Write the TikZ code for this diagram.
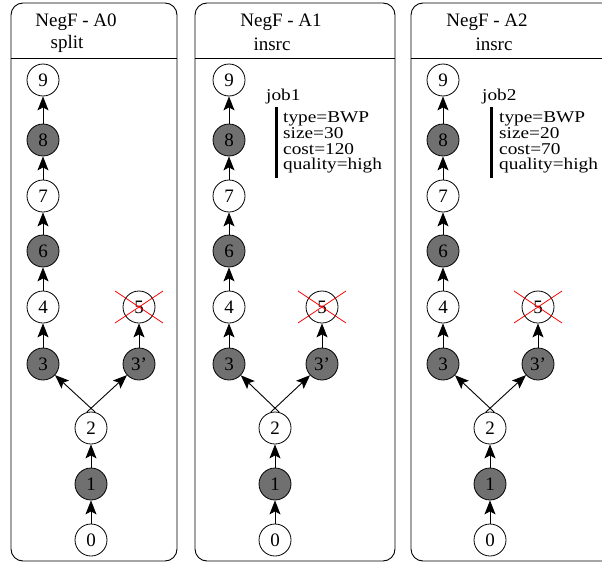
\documentclass[tikz,border=0pt]{standalone}
\usepackage{fontspec}
\setmainfont{Liberation Serif}
\newfontfamily\jobfont{Liberation Serif}[FakeStretch=1.17]
\usetikzlibrary{arrows.meta}
\definecolor{stategray}{gray}{0.44}

\tikzset{
  panel/.style={draw, line width=0.9pt, rounded corners=12pt},
  state/.style={circle, draw, line width=0.8pt, minimum size=32pt, inner sep=0pt,
                font=\fontsize{19}{19}\selectfont},
  busy/.style={state, fill=stategray},
  flow/.style={-{Stealth[length=14pt,width=11pt,inset=3pt]}, line width=0.9pt},
  cross/.style={draw=red, line width=0.8pt},
  head/.style={font=\fontsize{19}{19}\selectfont, inner sep=0pt},
  jobtxt/.style={font=\jobfont\fontsize{16.5}{16.5}\selectfont, inner sep=0pt, anchor=base west},
  bar/.style={line width=3pt}
}

\begin{document}
\begin{tikzpicture}[x=1pt,y=-1pt]
\useasboundingbox (0,0) rectangle (602,562);
\clip (0,0) rectangle (602,562);

% panel frames with their title separators
\draw[panel] (11,3) rectangle (177,561);
\draw[line width=0.9pt] (11,58) -- (177,58);
\draw[panel] (195,3) rectangle (395,561);
\draw[line width=0.9pt] (195,58) -- (395,58);
\draw[panel] (411,3) rectangle (630,561);
\draw[line width=0.9pt] (411,58) -- (630,58);

% titles
\node[head] (t0) at (76,22) {NegF - A0};
\node[head] (s0) at (67,44) {split};
\node[head] (t1) at (281,22) {NegF - A1};
\node[head] (s1) at (272,44) {insrc};
\node[head] (t2) at (487,22) {NegF - A2};
\node[head] (s2) at (494,44) {insrc};

% one state chain per panel: prefix / left column / centre / right column
\foreach \p/\l/\c/\r in {a/43/91/139, b/229/275/322, c/443/490/538}{
  \node[state] (\p9) at (\l,80)  {9};
  \node[busy]  (\p8) at (\l,140) {8};
  \node[state] (\p7) at (\l,196) {7};
  \node[busy]  (\p6) at (\l,251) {6};
  \node[state] (\p4) at (\l,307) {4};
  \node[state] (\p5) at (\r,307) {5};
  \node[busy]  (\p3) at (\l,364) {3};
  \node[busy]  (\p3b) at (\r,364) {3'};
  \node[state] (\p2) at (\c,428) {2};
  \node[busy]  (\p1) at (\c,484) {1};
  \node[state] (\p0) at (\c,540) {0};
  \draw[flow] (\p0) -- (\p1);
  \draw[flow] (\p1) -- (\p2);
  \draw[flow] (\p2.75) -- (\p3);
  \draw[flow] (\p2.105) -- (\p3b);
  \draw[flow] (\p3) -- (\p4);
  \draw[flow] (\p3b) -- (\p5);
  \draw[flow] (\p4) -- (\p6);
  \draw[flow] (\p6) -- (\p7);
  \draw[flow] (\p7) -- (\p8);
  \draw[flow] (\p8) -- (\p9);
  \draw[cross] ([shift={(-24,-16)}]\p5.center) -- ([shift={(24,16)}]\p5.center);
  \draw[cross] ([shift={(-24,16)}]\p5.center) -- ([shift={(24,-16)}]\p5.center);
}

% job descriptions
\node[jobtxt] (j1) at (266,100) {job1};
\draw[bar] (276,107) -- (276,178);
\node[jobtxt] (j1a) at (283,122.5) {type=BWP};
\node[jobtxt] (j1b) at (283,138.5) {size=30};
\node[jobtxt] (j1c) at (283,154) {cost=120};
\node[jobtxt] (j1d) at (283,169.5) {quality=high};

\node[jobtxt] (j2) at (482,100) {job2};
\draw[bar] (491,107) -- (491,178);
\node[jobtxt] (j2a) at (499,122.5) {type=BWP};
\node[jobtxt] (j2b) at (499,138.5) {size=20};
\node[jobtxt] (j2c) at (499,154) {cost=70};
\node[jobtxt] (j2d) at (499,169.5) {quality=high};
\end{tikzpicture}
\end{document}
